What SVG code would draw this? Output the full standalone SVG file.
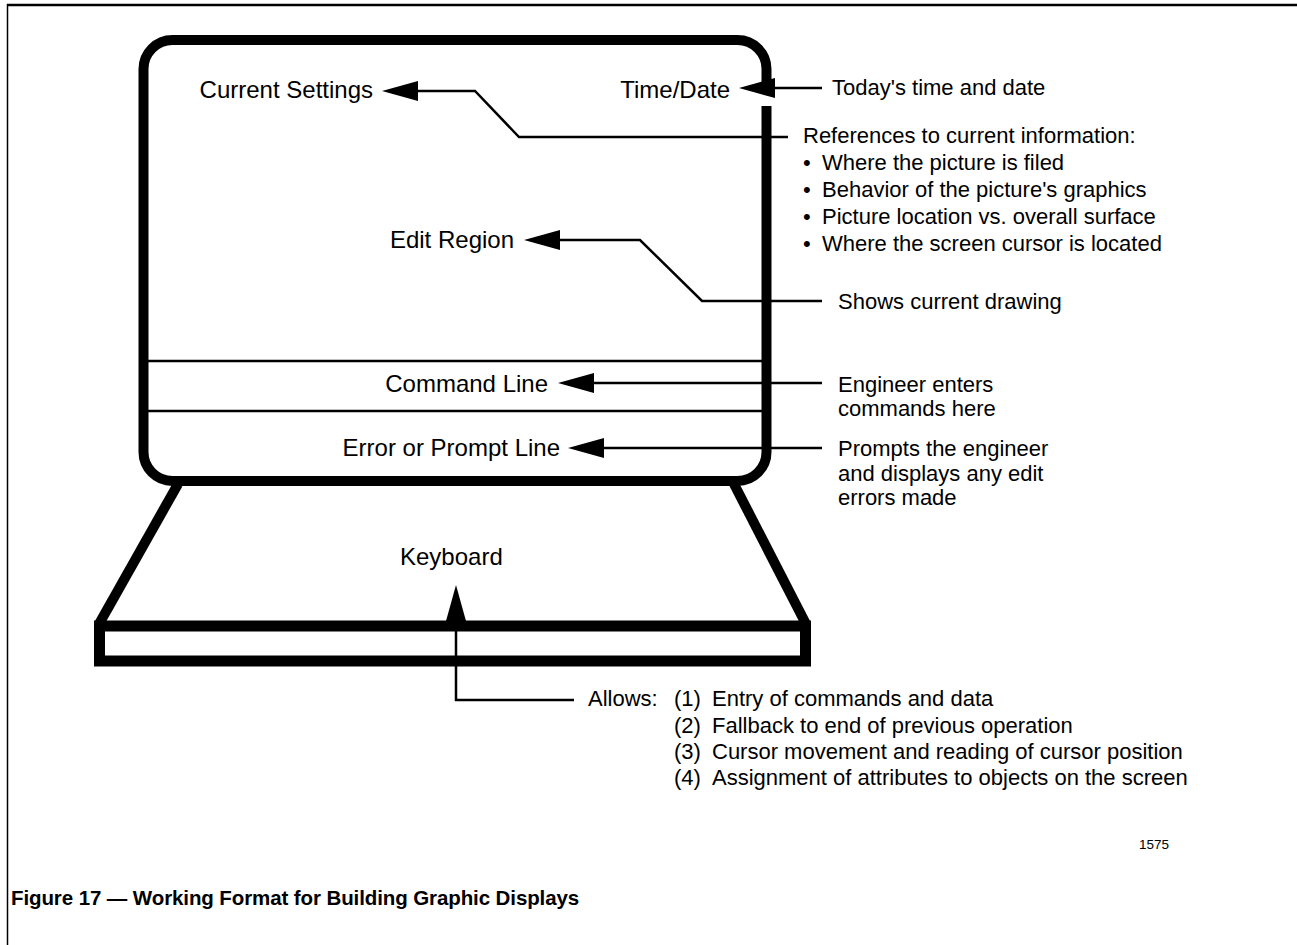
<svg xmlns="http://www.w3.org/2000/svg" width="1297" height="945" viewBox="0 0 1297 945">
  <style>
    .lbl { font-family: "Liberation Sans", Arial, Helvetica, sans-serif; font-size: 24px; fill: #000; }
    .txt { font-family: "Liberation Sans", Arial, Helvetica, sans-serif; font-size: 22px; fill: #000; }
    .thick { fill: none; stroke: #000; stroke-width: 10; }
    .thin { fill: none; stroke: #000; stroke-width: 2.5; }
    .conn { fill: none; stroke: #000; stroke-width: 2.5; marker-end: url(#arr); }
  </style>
  <defs>
    <marker id="arr" markerUnits="userSpaceOnUse" markerWidth="36" markerHeight="20" viewBox="0 0 36 20" refX="0" refY="10" orient="auto">
      <path d="M0,0 L36,10 L0,20 Z" fill="#000"/>
    </marker>
  </defs>
  <rect width="1297" height="945" fill="#fff"/>

  <g id="page-frame">
    <line x1="7" y1="5" x2="1297" y2="5" stroke="#000" stroke-width="2.5"/>
    <line x1="7.5" y1="4" x2="7.5" y2="945" stroke="#000" stroke-width="1.5"/>
  </g>

  <g id="monitor">
    <path class="thick" d="M766.5,82 L766.5,69 A29,29 0 0 0 737.5,40 L172.5,40 A29,29 0 0 0 143.5,69 L143.5,452 A29,29 0 0 0 172.5,481 L737.5,481 A29,29 0 0 0 766.5,452 L766.5,106"/>
    <line class="thin" x1="148" y1="361" x2="762" y2="361"/>
    <line class="thin" x1="148" y1="411" x2="762" y2="411"/>
  </g>

  <g id="keyboard">
    <path class="thick" d="M178,484 L99,624"/>
    <path class="thick" d="M734,484 L806,624"/>
    <rect class="thick" x="99.5" y="626" width="706" height="35" style="stroke-width:11"/>
  </g>

  <g id="connectors">
    <path class="conn" d="M822,88 L775,88"/>
    <path class="conn" d="M788,137 L519,137 L475,91 L418,91"/>
    <path class="conn" d="M822,301 L702,301 L640,240 L560,240"/>
    <path class="conn" d="M822,383 L594,383"/>
    <path class="conn" d="M822,448 L604,448"/>
    <path class="conn" d="M574,700 L456,700 L456,621"/>
  </g>

  <g id="label-current-settings"><text class="lbl" x="373" y="98" text-anchor="end">Current Settings</text></g>
  <g id="label-time-date"><text class="lbl" x="730" y="98" text-anchor="end">Time/Date</text></g>
  <g id="label-edit-region"><text class="lbl" x="514" y="248" text-anchor="end">Edit Region</text></g>
  <g id="label-command-line"><text class="lbl" x="548" y="392" text-anchor="end">Command Line</text></g>
  <g id="label-error-line"><text class="lbl" x="560" y="456" text-anchor="end">Error or Prompt Line</text></g>
  <g id="label-keyboard"><text class="lbl" x="400" y="565">Keyboard</text></g>

  <g id="note-time"><text class="txt" x="832" y="95">Today's time and date</text></g>
  <g id="note-references">
    <text class="txt" x="803" y="143">References to current information:</text>
    <text class="txt" x="803" y="170">•</text><text class="txt" x="822" y="170">Where the picture is filed</text>
    <text class="txt" x="803" y="197">•</text><text class="txt" x="822" y="197">Behavior of the picture's graphics</text>
    <text class="txt" x="803" y="224">•</text><text class="txt" x="822" y="224">Picture location vs. overall surface</text>
    <text class="txt" x="803" y="251">•</text><text class="txt" x="822" y="251">Where the screen cursor is located</text>
  </g>
  <g id="note-drawing"><text class="txt" x="838" y="309">Shows current drawing</text></g>
  <g id="note-command">
    <text class="txt" x="838" y="392">Engineer enters</text>
    <text class="txt" x="838" y="416">commands here</text>
  </g>
  <g id="note-prompt">
    <text class="txt" x="838" y="456">Prompts the engineer</text>
    <text class="txt" x="838" y="481">and displays any edit</text>
    <text class="txt" x="838" y="505">errors made</text>
  </g>
  <g id="note-keyboard">
    <text class="txt" x="588" y="706">Allows:</text>
    <text class="txt" x="674" y="706">(1)</text><text class="txt" x="712" y="706">Entry of commands and data</text>
    <text class="txt" x="674" y="733">(2)</text><text class="txt" x="712" y="733">Fallback to end of previous operation</text>
    <text class="txt" x="674" y="759">(3)</text><text class="txt" x="712" y="759">Cursor movement and reading of cursor position</text>
    <text class="txt" x="674" y="785">(4)</text><text class="txt" x="712" y="785">Assignment of attributes to objects on the screen</text>
  </g>
  <g id="figure-number"><text x="1139" y="849" style="font-family:'Liberation Sans',Arial,sans-serif;font-size:13.5px">1575</text></g>
  <g id="caption"><text x="11" y="905" style="font-family:'Liberation Sans',Arial,sans-serif;font-size:20.5px;font-weight:bold;letter-spacing:-0.1px">Figure 17 — Working Format for Building Graphic Displays</text></g>
</svg>
